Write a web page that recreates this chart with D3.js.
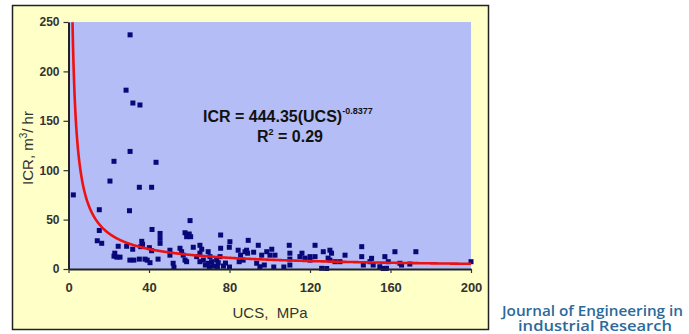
<!DOCTYPE html>
<html>
<head>
<meta charset="utf-8">
<script src="https://cdn.jsdelivr.net/npm/d3@7"></script>
<style>
  body { margin: 0; background: #ffffff; }
  svg { display: block; font-family: "Liberation Sans", Arial, sans-serif; }
</style>
</head>
<body>
<div id="chart"></div>
<script>
// data: UCS (MPa) vs ICR (m3/hr)
const ucs = [2.4, 15.3, 15.3, 14.3, 16.5, 20.6, 22.6, 23, 22.6, 24, 25.6, 24.7, 28.9, 28.6, 30.6, 32, 35.5, 30.6, 30.3, 31.9,
    30.5, 32.5, 35.2, 35.2, 41.3, 43.5, 36.4, 36.8, 35.9, 40.2, 41.3, 39.1, 40.5, 41.5, 45.5, 45.5, 45.5, 44.5, 38, 50.4,
    50.4, 52, 52.4, 60.4, 57.9, 60, 58.7, 60.7, 55.4, 56.2, 57, 57.9, 58.7, 62, 65.3, 66.2, 65.3, 63.7, 65.3, 67,
    68, 69.4, 70.3, 71.1, 69.4, 73.6, 75.3, 74.4, 75.6, 80.2, 79.9, 75.6, 70, 72, 74, 77, 78, 80, 84.3, 85.5,
    86.8, 84.8, 88.5, 89.3, 87.7, 89, 94.3, 92, 96, 98.5, 101, 102.6, 100.1, 93.5, 95.1, 97.3, 102, 107, 110, 109.7,
    110, 110, 115, 116, 117.5, 120, 122.5, 120, 122.5, 125.8, 128.3, 126.6, 129.9, 130.7, 129, 129.9, 132.4, 134.9, 137.4, 145.7,
    145.7, 146.5, 149.8, 150.6, 151.4, 154.7, 156.4, 157.2, 158, 157.2, 158.9, 162.2, 164.7, 165.5, 169.6, 172.6, 200];
const icr = [75, 60, 39, 28.6, 26, 89, 109, 16, 13, 12, 12, 23, 23, 181, 237, 168, 166, 119, 59, 20,
    9, 9, 10, 82.7, 82.7, 108, 28, 25, 22.6, 21.6, 18.5, 9, 6.4, 40, 36, 31, 26, 10, 10, 19,
    14, 5.8, 1.7, 49, 36.7, 35.4, 32.7, 32.7, 21, 17.5, 14, 9, 7.4, 22, 24, 20, 16, 12.5, 7.4, 9,
    4, 17.5, 12.5, 7.4, 5.8, 9, 12.5, 6.4, 34.4, 27.6, 22, 21, 2, 3, 2, 3, 6, 2, 19, 14,
    9, 7.4, 19, 29, 17.5, 16, 24, 17, 14, 17.5, 20, 14, 14, 5.8, 2.3, 4, 2, 2, 4, 24,
    16, 10, 12.5, 16, 11, 12.5, 12.5, 9, 24, 0.7, 0.5, 17.5, 19, 16, 11, 9, 7.4, 7.4, 14, 22.6,
    12.5, 4, 7.4, 10.8, 4, 2.3, 0.5, 0.5, 0.7, 12.5, 7.4, 17.5, 5.8, 4, 5, 17.5, 7.4];
const points = ucs.map((u, i) => ({ucs: u, icr: icr[i]}));

const xTicks = [0, 40, 80, 120, 160, 200];
const yTicks = [0, 50, 100, 150, 200, 250];

// fitted power curve ICR = 444.35 * UCS^-0.8377
const fitA = 444.35, fitB = -0.8377;

const width = 689, height = 334;
const plot = {left: 68.5, right: 471, top: 22, bottom: 269};

const svg = d3.select("#chart").append("svg")
    .attr("width", width)
    .attr("height", height);

// outer yellow panel
svg.append("rect")
    .attr("x", 12.5).attr("y", 5.5)
    .attr("width", 476).attr("height", 324)
    .attr("fill", "#ffffc8")
    .attr("stroke", "#222")
    .attr("stroke-width", 1.5);

const x = d3.scaleLinear().domain([0, 200]).range([plot.left, plot.right]);
const y = d3.scaleLinear().domain([0, 250]).range([plot.bottom, plot.top]);

// plot background
svg.append("rect")
    .attr("x", x(0)).attr("y", y(250))
    .attr("width", x(200) - x(0)).attr("height", y(0) - y(250))
    .attr("fill", "#b4bdf5");

// points
svg.append("g")
    .selectAll("rect")
    .data(points)
    .enter()
    .append("rect")
    .attr("x", d => x(d.ucs) - 2.5)
    .attr("y", d => y(d.icr) - 2.5)
    .attr("width", 5)
    .attr("height", 5)
    .attr("fill", "#08087a");

// fit curve
let curveData = d3.range(1.99, 200.01, 0.25).map(u => ({ucs: u, icr: fitA * Math.pow(u, fitB)}));
curveData = curveData.filter(d => d.icr <= 250);
svg.append("path")
    .datum(curveData)
    .attr("fill", "none")
    .attr("stroke", "#ee1111")
    .attr("stroke-width", 2.6)
    .attr("d", d3.line().x(d => x(d.ucs)).y(d => y(d.icr)));

// axes
const xAxis = svg.append("g")
    .attr("transform", `translate(0,${y(0)})`)
    .call(d3.axisBottom(x).tickValues(xTicks).tickSize(4).tickSizeOuter(0).tickPadding(10));
const yAxis = svg.append("g")
    .attr("transform", `translate(${x(0)},0)`)
    .call(d3.axisLeft(y).tickValues(yTicks).tickSize(5).tickSizeOuter(0).tickPadding(4));

[xAxis, yAxis].forEach(g => {
    g.select(".domain").attr("stroke", "#222").attr("stroke-width", 2);
    g.selectAll(".tick line").attr("stroke", "#333").attr("stroke-width", 1.2);
    g.selectAll(".tick text")
        .attr("fill", "#333")
        .style("font-weight", "bold")
        .style("font-family", "'Liberation Sans', Arial, sans-serif");
});
xAxis.selectAll(".tick text").style("font-size", "13px");
yAxis.selectAll(".tick text").style("font-size", "12px");

// axis titles
svg.append("text")
    .attr("x", 270).attr("y", 318)
    .attr("text-anchor", "middle")
    .attr("fill", "#333")
    .style("font-size", "15px")
    .attr("xml:space", "preserve")
    .text("UCS,  MPa");

const yTitle = svg.append("text")
    .attr("transform", "translate(33,148) rotate(-90)")
    .attr("text-anchor", "middle")
    .attr("fill", "#333")
    .style("font-size", "15px");
yTitle.append("tspan").text("ICR, m");
yTitle.append("tspan").attr("dy", -6).style("font-size", "10px").text("3");
yTitle.append("tspan").attr("dy", 6).text("/ hr");

// equation
const eq = svg.append("text")
    .attr("x", 203).attr("y", 121.5)
    .attr("fill", "#111")
    .style("font-weight", "bold")
    .style("font-size", "16px");
eq.append("tspan").text("ICR = 444.35(UCS)");
eq.append("tspan").attr("dy", -8).style("font-size", "9px").text("-0.8377");

const r2 = svg.append("text")
    .attr("x", 257).attr("y", 141.5)
    .attr("fill", "#111")
    .style("font-weight", "bold")
    .style("font-size", "16px");
r2.append("tspan").text("R");
r2.append("tspan").attr("dy", -7).style("font-size", "9px").text("2");
r2.append("tspan").attr("dy", 7).text(" = 0.29");

// journal label
svg.append("text")
    .attr("x", 502).attr("y", 316)
    .attr("fill", "#2b6a9b")
    .style("font-family", "'Open Sans', sans-serif")
    .style("font-weight", "600")
    .style("font-size", "15px")
    .attr("textLength", 181)
    .attr("lengthAdjust", "spacingAndGlyphs")
    .text("Journal of Engineering in");
svg.append("text")
    .attr("x", 518).attr("y", 331)
    .attr("fill", "#2b6a9b")
    .style("font-family", "'Open Sans', sans-serif")
    .style("font-weight", "600")
    .style("font-size", "15px")
    .attr("textLength", 154)
    .attr("lengthAdjust", "spacingAndGlyphs")
    .text("industrial Research");
</script>
</body>
</html>
